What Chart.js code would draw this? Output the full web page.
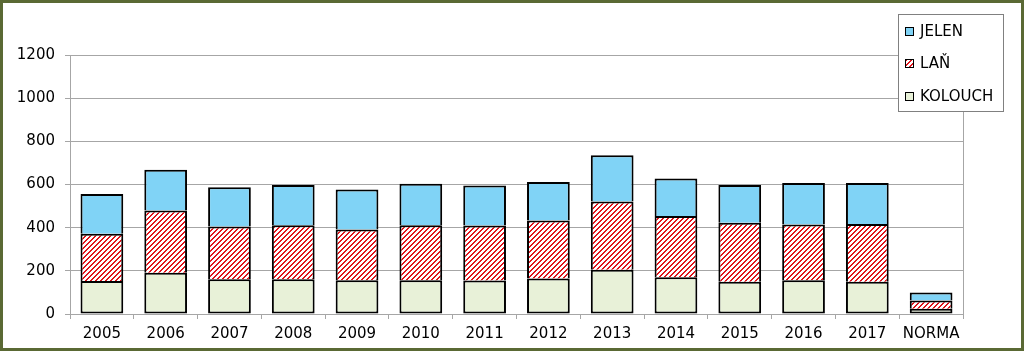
<!DOCTYPE html>
<html>
<head>
<meta charset="utf-8">
<script src="https://cdn.jsdelivr.net/npm/chart.js@4/dist/chart.umd.min.js"></script>
<style>
    html, body { margin: 0; padding: 0; background: #fff; }
    #wrap { width: 1024px; height: 351px; position: relative; }
</style>
</head>
<body>
<div id="wrap"><canvas id="chart" width="1024" height="351"></canvas></div>
<script>
// Données
const categories = ['2005', '2006', '2007', '2008', '2009', '2010', '2011', '2012', '2013', '2014', '2015', '2016', '2017', 'NORMA'];
const kolouch = [153, 191, 161, 161, 156, 156, 155, 164, 205, 170, 149, 156, 149, 24];
const lan     = [219, 288, 244, 250, 235, 255, 255, 269, 316, 284, 274, 259, 268, 38];
const jelen   = [184, 189, 182, 187, 186, 192, 185, 179, 214, 174, 175, 192, 190, 38];
const yTicks  = [0, 200, 400, 600, 800, 1000, 1200];

const FONT = "'DejaVu Sans', sans-serif";
const GRID = '#a6a6a6';
const COL_JELEN = '#80d3f6';
const COL_KOLOUCH = '#e8f1d8';
const COL_STRIPE = '#e0141b';

// Motif hachuré rouge pour LAŇ
function makeStripes() {
    const size = 5;
    const c = document.createElement('canvas');
    c.width = size;
    c.height = size;
    const g = c.getContext('2d');
    g.fillStyle = '#ffffff';
    g.fillRect(0, 0, size, size);
    g.fillStyle = COL_STRIPE;
    for (let x = 0; x < size; x++) {
        for (let y = 0; y < size; y++) {
            if ((x + y) % size < 2) g.fillRect(x, y, 1, 1);
        }
    }
    return g.createPattern(c, 'repeat');
}

const ctx = document.getElementById('chart').getContext('2d');
const stripes = makeStripes();

// Cadre extérieur + bordure droite de la zone de tracé
const framePlugin = {
    id: 'frame',
    beforeDraw(chart) {
        const c = chart.ctx;
        c.save();
        c.fillStyle = '#ffffff';
        c.fillRect(0, 0, chart.width, chart.height);
        c.restore();
    },
    afterDatasetsDraw(chart) {
        const c = chart.ctx;
        const a = chart.chartArea;
        c.save();
        c.strokeStyle = GRID;
        c.lineWidth = 1;
        c.beginPath();
        c.moveTo(Math.round(a.right) + 0.5, a.top);
        c.lineTo(Math.round(a.right) + 0.5, a.bottom + 5);
        c.stroke();
        c.restore();
    },
    afterDraw(chart) {
        const c = chart.ctx;
        c.save();
        c.strokeStyle = '#5a6934';
        c.lineWidth = 3;
        c.strokeRect(1.5, 1.5, chart.width - 3, chart.height - 3);
        c.restore();
    }
};

// Légende encadrée, dessinée à la main
const legendBox = {
    id: 'legendBox',
    afterDraw(chart) {
        const c = chart.ctx;
        const bx = 898.5, by = 14.5, bw = 105, bh = 97;
        c.save();
        c.fillStyle = '#ffffff';
        c.fillRect(bx, by, bw, bh);
        c.strokeStyle = '#808080';
        c.lineWidth = 1;
        c.strokeRect(bx, by, bw, bh);
        const rows = [31, 63, 96];
        const order = [2, 1, 0];
        c.font = '15px ' + FONT;
        c.textBaseline = 'middle';
        order.forEach((di, i) => {
            const ds = chart.data.datasets[di];
            const y = rows[i];
            c.fillStyle = ds.backgroundColor;
            c.fillRect(905, y - 4, 9, 9);
            c.strokeStyle = '#000';
            c.lineWidth = 1;
            c.strokeRect(905.5, y - 3.5, 8, 8);
            c.fillStyle = '#000';
            c.fillText(ds.label, 920, y + 1);
        });
        c.restore();
    }
};

new Chart(ctx, {
    type: 'bar',
    data: {
        labels: categories,
        datasets: [
            {
                label: 'KOLOUCH',
                data: kolouch,
                backgroundColor: COL_KOLOUCH,
                borderColor: '#000',
                borderWidth: { top: 2, left: 2, right: 2, bottom: 2 },
                borderSkipped: false
            },
            {
                label: 'LAŇ',
                data: lan,
                backgroundColor: stripes,
                borderColor: '#000',
                borderWidth: { top: 2, left: 2, right: 2, bottom: 0 },
                borderSkipped: false
            },
            {
                label: 'JELEN',
                data: jelen,
                backgroundColor: COL_JELEN,
                borderColor: '#000',
                borderWidth: { top: 2, left: 2, right: 2, bottom: 0 },
                borderSkipped: false
            }
        ]
    },
    options: {
        responsive: false,
        animation: false,
        devicePixelRatio: 1,
        datasets: {
            bar: { categoryPercentage: 1, barPercentage: 0.67 }
        },
        layout: {
            padding: { top: 55, right: 61, bottom: 0, left: 0 }
        },
        scales: {
            x: {
                stacked: true,
                afterFit(scale) { scale.height = 37; },
                grid: {
                    offset: true,
                    drawOnChartArea: false,
                    drawTicks: true,
                    tickLength: 5,
                    color: GRID
                },
                border: { color: GRID },
                ticks: {
                    color: '#000',
                    font: { family: FONT, size: 15 },
                    padding: 6,
                    maxRotation: 0,
                    autoSkip: false
                }
            },
            y: {
                stacked: true,
                min: 0,
                max: 1200,
                afterFit(scale) { scale.width = 70; },
                afterBuildTicks(scale) { scale.ticks = yTicks.map(v => ({ value: v })); },
                grid: {
                    color: GRID,
                    tickLength: 5
                },
                border: { color: GRID },
                ticks: {
                    color: '#000',
                    font: { family: FONT, size: 15 },
                    padding: 10,
                    callback: (v) => String(v)
                }
            }
        },
        plugins: {
            legend: { display: false },
            tooltip: { enabled: false }
        }
    },
    plugins: [framePlugin, legendBox]
});
</script>
</body>
</html>
